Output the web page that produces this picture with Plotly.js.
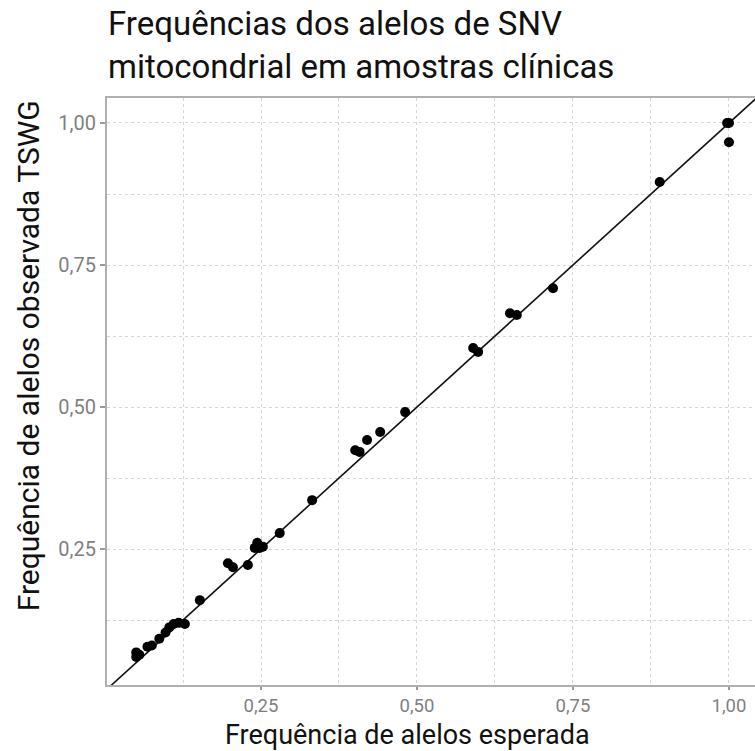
<!DOCTYPE html>
<html>
<head>
<meta charset="utf-8">
<script src="https://cdn.plot.ly/plotly-3.0.1.min.js"></script>
<style>html,body{margin:0;padding:0;background:#fff;}#chart{width:755px;height:751px;}</style>
</head>
<body>
<div id="chart"></div>
<script>
var expectedFreq = [0.050, 0.050, 0.055, 0.068, 0.075, 0.087, 0.097, 0.103, 0.110, 0.118, 0.128, 0.152,
                    0.197, 0.205, 0.229, 0.240, 0.244, 0.248, 0.253, 0.280, 0.332,
                    0.401, 0.408, 0.420, 0.441, 0.481,
                    0.590, 0.598, 0.649, 0.660, 0.718,
                    0.889, 0.997, 1.000, 1.000];
var observedFreq = [0.060, 0.068, 0.064, 0.078, 0.080, 0.092, 0.103, 0.112, 0.118, 0.120, 0.118, 0.160,
                    0.225, 0.218, 0.222, 0.252, 0.261, 0.252, 0.254, 0.278, 0.336,
                    0.424, 0.421, 0.442, 0.456, 0.491,
                    0.604, 0.597, 0.665, 0.662, 0.709,
                    0.896, 1.000, 1.000, 0.966];
var identityLine = [0, 1.2];
var tickValues = [0.25, 0.50, 0.75, 1.00];
var tickLabels = ['0,25', '0,50', '0,75', '1,00'];
var minorTickValues = [0.125, 0.375, 0.625, 0.875];
var titleText = 'Frequências dos alelos de SNV<br>mitocondrial em amostras clínicas';
var xTitle = 'Frequência de alelos esperada';
var yTitle = 'Frequência de alelos observada TSWG';

var gridColor = '#d6d6d6';

var traces = [
  {x: identityLine, y: identityLine, mode: 'lines', type: 'scatter',
   line: {color: '#111111', width: 1.6}, hoverinfo: 'skip', showlegend: false},
  {x: expectedFreq, y: observedFreq, mode: 'markers', type: 'scatter',
   marker: {color: '#000000', size: 10}, showlegend: false}
];

function axis(range, tickSize) {
  return {
    range: range,
    tickmode: 'array', tickvals: tickValues, ticktext: tickLabels,
    ticks: 'outside', ticklen: 5, tickwidth: 1.5, tickcolor: '#9a9a9a',
    tickfont: {family: 'Roboto', size: tickSize, color: '#7f7f7f'},
    showgrid: true, gridcolor: gridColor, griddash: 'dot', gridwidth: 1,
    minor: {tickmode: 'array', tickvals: minorTickValues, showgrid: true, gridcolor: gridColor, griddash: 'dot', gridwidth: 1, ticks: ''},
    showline: true, linecolor: '#b0b0b0', linewidth: 2,
    zeroline: false, automargin: false
  };
}

var xa = axis([0.0032, 1.0417], 18.5);
xa.mirror = true;
xa.ticklen = 3;
var ya = axis([0.0106, 1.044], 20);
ya.mirror = false;

var annotations = [
  {text: titleText, xref: 'paper', yref: 'paper', x: -0.002, y: 1.1635,
   xanchor: 'left', yanchor: 'top', align: 'left', showarrow: false,
   font: {family: 'Roboto', size: 33, color: '#111'}},
  {text: xTitle, xref: 'paper', yref: 'paper', x: 0.4645, y: -0.057,
   xanchor: 'center', yanchor: 'top', showarrow: false, borderpad: 0,
   font: {family: 'Roboto', size: 27, color: '#111'}},
  {text: yTitle, xref: 'paper', yref: 'paper', x: -0.12, y: 0.5605,
   xanchor: 'center', yanchor: 'middle', textangle: -90, showarrow: false,
   font: {family: 'Roboto', size: 30, color: '#111'}}
];

var layout = {
  width: 755, height: 751,
  margin: {l: 107, r: 0, t: 98, b: 66},
  paper_bgcolor: '#ffffff', plot_bgcolor: '#ffffff',
  font: {family: 'Roboto', color: '#000'},
  xaxis: xa, yaxis: ya,
  annotations: annotations
};

Plotly.newPlot('chart', traces, layout, {displayModeBar: false, staticPlot: true});
</script>
</body>
</html>
